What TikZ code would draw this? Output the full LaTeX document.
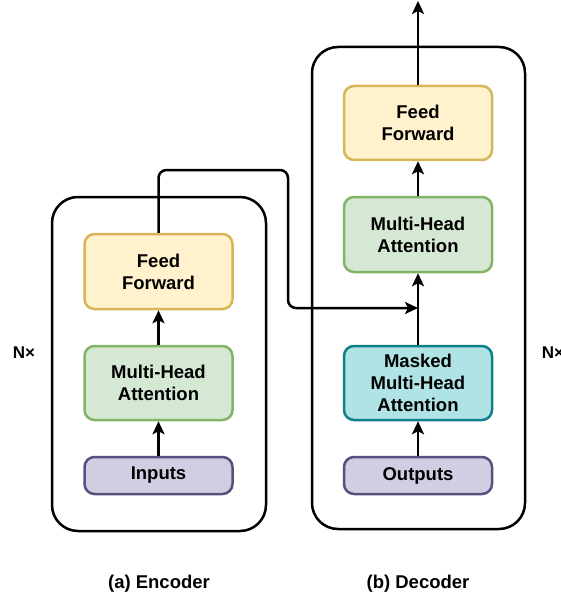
\documentclass[tikz,border=0pt]{standalone}
\usepackage{fontspec}
\setmainfont{Liberation Sans}
\usetikzlibrary{arrows.meta}
\definecolor{ffFill}{HTML}{FFF2CC}\definecolor{ffLine}{HTML}{D6B656}
\definecolor{mhFill}{HTML}{D5E8D4}\definecolor{mhLine}{HTML}{82B366}
\definecolor{ioFill}{HTML}{D0CEE2}\definecolor{ioLine}{HTML}{56517E}
\definecolor{mkFill}{HTML}{B0E3E6}\definecolor{mkLine}{HTML}{0E8088}
\begin{document}
\begin{tikzpicture}[x=1pt,y=-1pt,
  block/.style={draw,line width=2.5pt,rounded corners=10pt,minimum width=148pt,align=center,
    font=\fontsize{18.5}{22}\selectfont\bfseries,inner sep=0pt},
  outer/.style={draw,line width=2.5pt,rounded corners=26pt},
  flow/.style={line width=2.5pt,-{Stealth[length=13pt,width=12pt,inset=3pt]}},
  captext/.style={font=\fontsize{18.5}{20}\selectfont\bfseries},
  reptext/.style={font=\fontsize{17}{18}\selectfont\bfseries}]
\useasboundingbox (0,0) rectangle (561,596);
% outer stacks
\draw[outer] (52,197) rectangle (266,531);
\draw[outer] (312,47) rectangle (525,529);
% encoder blocks
\node[block,fill=ffFill,draw=ffLine,minimum height=75pt] (eff) at (158.5,271.5) {Feed\\Forward};
\node[block,fill=mhFill,draw=mhLine,minimum height=74pt] (emh) at (158.5,383) {Multi-Head\\Attention};
\node[block,fill=ioFill,draw=ioLine,minimum height=37pt] (inp) at (158.5,475.5) {Inputs};
% decoder blocks
\node[block,fill=ffFill,draw=ffLine,minimum height=74pt] (dff) at (418,123) {Feed\\Forward};
\node[block,fill=mhFill,draw=mhLine,minimum height=75pt] (dmh) at (418,234.5) {Multi-Head\\Attention};
\node[block,fill=mkFill,draw=mkLine,minimum height=74pt] (dmk) at (418,383) {Masked\\Multi-Head\\Attention};
\node[block,fill=ioFill,draw=ioLine,minimum height=37pt] (out) at (418,475.5) {Outputs};
\coordinate (top) at (418,1);
\coordinate (join) at (418,308);
% connectors
\draw[flow] (inp) -- (emh);
\draw[flow] (emh) -- (eff);
\draw[flow] (out) -- (dmk);
\draw[flow] (dmk) -- (dmh);
\draw[flow] (dmh) -- (dff);
\draw[flow] (dff) -- (top);
\draw[flow,rounded corners=8pt] (eff.north) |- (288,170) |- (join);
% labels
\node[reptext] (nl) at (24,353) {N×};
\node[reptext] (nr) at (553,353) {N×};
\node[captext] (ca) at (159,584) {(a) Encoder};
\node[captext] (cb) at (418,584) {(b) Decoder};
\end{tikzpicture}
\end{document}
